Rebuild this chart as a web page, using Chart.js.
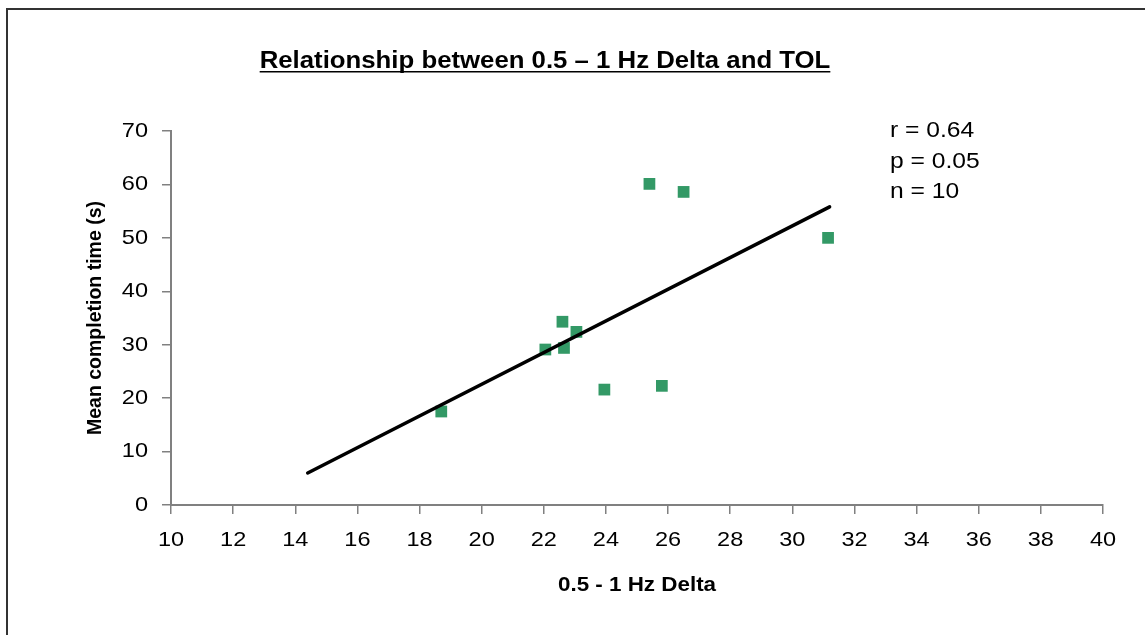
<!DOCTYPE html>
<html>
<head>
<meta charset="utf-8">
<script src="https://cdn.jsdelivr.net/npm/chart.js@4/dist/chart.umd.min.js"></script>
<style>
    body { margin: 0; background: #fff; overflow: hidden; }
    #wrap { position: relative; width: 1145px; height: 635px; }
    #frame {
        position: absolute; left: 6px; top: 8px; right: -10px; bottom: -10px;
        border-left: 2px solid #333; border-top: 2px solid #333;
    }
    #deltaChart { position: absolute; left: 0; top: 0; }
</style>
</head>
<body>
<div id="wrap">
    <div id="frame"></div>
    <canvas id="deltaChart" width="1145" height="635"></canvas>
</div>
<script>
// 0.5 - 1 Hz delta vs mean completion time
const deltaPower = [18.7, 22.05, 22.6, 22.65, 23.05, 23.95, 25.4, 25.8, 26.5, 31.15];
const completionTime = [17.5, 29.1, 34.3, 29.4, 32.4, 21.6, 60.1, 22.3, 58.6, 50.0];

// linear trend line end points
const trendX = [14.4, 31.2];
const trendY = [6.0, 55.8];

const statsLines = ['r = 0.64', 'p = 0.05', 'n = 10'];
const chartTitle = 'Relationship between 0.5 \u2013 1 Hz Delta and TOL';

const fontFamily = "'Liberation Sans', Arial, sans-serif";
// horizontal text in the original is a little wider than plain Arial
const TEXT_STRETCH = 1.12;

const canvas = document.getElementById('deltaChart');
const ctx = canvas.getContext('2d');
const nativeFillText = CanvasRenderingContext2D.prototype.fillText;
ctx.fillText = function(text, x, y) {
    const m = this.getTransform();
    if (Math.abs(m.b) > 0.5) {
        // rotated axis title stays as is
        nativeFillText.call(this, text, x, y);
        return;
    }
    this.save();
    this.translate(x, y);
    this.scale(TEXT_STRETCH, 1);
    nativeFillText.call(this, text, 0, 0);
    this.restore();
};

const textPlugin = {
    id: 'textPlugin',
    afterDraw(chart) {
        const c = chart.ctx;
        c.save();
        c.fillStyle = '#000';
        c.font = 'bold 23px ' + fontFamily;
        c.textAlign = 'center';
        c.textBaseline = 'alphabetic';
        c.fillText(chartTitle, 545, 68);
        const w = c.measureText(chartTitle).width * TEXT_STRETCH;
        c.fillRect(545 - w / 2, 71, w, 1.5);

        c.font = '22px ' + fontFamily;
        c.textAlign = 'left';
        c.textBaseline = 'middle';
        statsLines.forEach((t, i) => c.fillText(t, 890, 131 + i * 30.5));
        c.restore();
    }
};

const points = deltaPower.map((x, i) => ({ x: x, y: completionTime[i] }));
const trend = trendX.map((x, i) => ({ x: x, y: trendY[i] }));

new Chart(ctx, {
    type: 'scatter',
    data: {
        datasets: [{
            label: 'TOL',
            data: points,
            pointStyle: 'rect',
            pointRadius: 8.3,
            backgroundColor: '#339966',
            borderColor: '#339966',
            borderWidth: 0,
            order: 1
        }, {
            label: 'Trend',
            type: 'line',
            data: trend,
            borderColor: '#000',
            borderWidth: 3.5,
            borderCapStyle: 'round',
            pointRadius: 0,
            fill: false,
            order: 0
        }]
    },
    options: {
        responsive: false,
        animation: false,
        layout: { padding: { top: 131, right: 42, bottom: 0, left: 0 } },
        plugins: {
            legend: { display: false },
            tooltip: { enabled: false }
        },
        scales: {
            x: {
                type: 'linear',
                min: 10,
                max: 40,
                afterFit: s => { s.height = 130; },
                ticks: {
                    stepSize: 2,
                    color: '#000',
                    padding: 14,
                    font: { family: fontFamily, size: 21 }
                },
                grid: { drawOnChartArea: false, tickLength: 9, color: '#808080', lineWidth: 1.5 },
                border: { color: '#808080', width: 2 },
                title: {
                    display: true,
                    text: '0.5 - 1 Hz Delta',
                    color: '#000',
                    font: { family: fontFamily, size: 20, weight: 'bold' },
                    padding: { top: 0, bottom: 38 }
                }
            },
            y: {
                type: 'linear',
                min: 0,
                max: 70,
                afterFit: s => { s.width = 171; },
                ticks: {
                    stepSize: 10,
                    color: '#000',
                    padding: 14,
                    font: { family: fontFamily, size: 21 }
                },
                grid: { drawOnChartArea: false, tickLength: 9, color: '#808080', lineWidth: 1.5 },
                border: { color: '#808080', width: 2 },
                title: {
                    display: true,
                    text: 'Mean completion time (s)',
                    color: '#000',
                    font: { family: fontFamily, size: 19.5, weight: 'bold' },
                    padding: { top: 84, bottom: 0 }
                }
            }
        }
    },
    plugins: [textPlugin]
});
</script>
</body>
</html>
